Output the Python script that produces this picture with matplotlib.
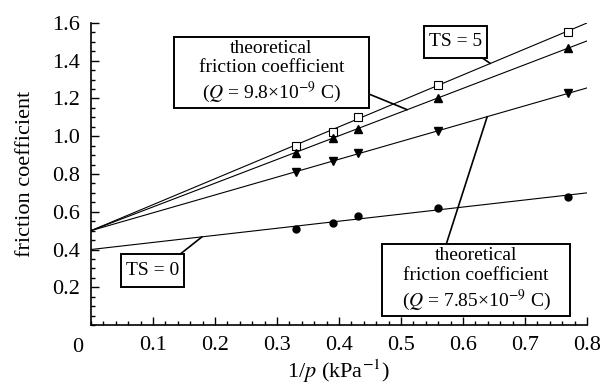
import numpy as np
import matplotlib.pyplot as plt
from matplotlib.patches import Rectangle
from matplotlib.ticker import MultipleLocator

plt.rcParams['font.family'] = ['Liberation Serif', 'DejaVu Serif']
plt.rcParams['mathtext.fontset'] = 'stix'

# measured points, 1/p (kPa^-1)
x_meas = [0.33, 0.39, 0.43, 0.56, 0.77]
ts_square = [0.95, 1.02, 1.10, 1.27, 1.55]
ts_up = [0.91, 0.99, 1.04, 1.20, 1.47]
ts_down = [0.81, 0.87, 0.91, 1.03, 1.23]
ts_zero = [0.51, 0.54, 0.58, 0.62, 0.68]

# theoretical lines: value at 1/p = 0 and at 1/p = 0.8
x_line = [0.0, 0.8]
line_square = [0.5, 1.60]
line_up = [0.5, 1.505]
line_down = [0.5, 1.256]
line_zero = [0.4, 0.70]

fig = plt.figure(figsize=(6.08, 3.85), dpi=100)
ax = fig.add_axes([0.1497, 0.1558, 0.8158, 0.7845])

ax.plot(x_line, line_square, 'k-', lw=0.8)
ax.plot(x_line, line_up, 'k-', lw=0.8)
ax.plot(x_line, line_down, 'k-', lw=0.8)
ax.plot(x_line, line_zero, 'k-', lw=0.8)

ax.plot(x_meas, ts_square, 's', mfc='white', mec='k', mew=0.8, ms=6, ls='none')
ax.plot(x_meas, ts_up, '^', color='k', ms=5.5, ls='none')
ax.plot(x_meas, ts_down, 'v', color='k', ms=5.5, ls='none')
ax.plot(x_meas, ts_zero, 'o', color='k', ms=5, ls='none')

ax.set_xlim(0, 0.8)
ax.set_ylim(0, 1.6)
ax.xaxis.set_minor_locator(MultipleLocator(0.02))
ax.yaxis.set_minor_locator(MultipleLocator(0.05))
ax.set_xticks(np.arange(0.1, 0.81, 0.1))
ax.set_xticklabels(['%.1f' % v for v in np.arange(0.1, 0.81, 0.1)])
ax.set_yticks(np.arange(0.2, 1.61, 0.2))
ax.set_yticklabels(['%.1f' % v for v in np.arange(0.2, 1.61, 0.2)])
ax.tick_params(which='both', direction='in', width=1, labelsize=16)
ax.tick_params(which='major', length=6, pad=8)
ax.tick_params(which='minor', length=3)
ax.spines['top'].set_visible(False)
ax.spines['right'].set_visible(False)
ax.spines['left'].set_linewidth(1.2)
ax.spines['bottom'].set_linewidth(1.2)
ax.text(-0.022, -0.07, '0', fontsize=16, ha='center', va='top')

ax.set_xlabel(r'1/$p$ (kPa$^{-1}$)', fontsize=16, labelpad=2)
ax.set_ylabel('friction coefficient', fontsize=16, labelpad=12)

def on_line(vals, x):
    return vals[0] + (vals[1] - vals[0]) * x / 0.8

def label_box(text, x0, x1, y0, y1, start, target_x, line):
    ax.add_patch(Rectangle((x0, y0), x1 - x0, y1 - y0, fc='white', ec='k',
                           lw=1.4, zorder=4))
    ax.text((x0 + x1) / 2, (y0 + y1) / 2, text, ha='center', va='center',
            fontsize=14, linespacing=1.2, zorder=5)
    ax.annotate('', xy=(target_x, on_line(line, target_x)), xytext=start,
                arrowprops=dict(arrowstyle='-', color='k', lw=1.2,
                                shrinkA=0, shrinkB=0), zorder=3)

label_box('theoretical\nfriction coefficient\n($Q$ = 9.8×10$^{-9}$ C)',
          0.134, 0.448, 1.150, 1.526, (0.448, 1.224), 0.51, line_up)
label_box('TS = 5', 0.537, 0.639, 1.415, 1.584, (0.631, 1.415), 0.644, line_square)
label_box('theoretical\nfriction coefficient\n($Q$ = 7.85×10$^{-9}$ C)',
          0.469, 0.773, 0.048, 0.429, (0.573, 0.429), 0.639, line_down)
label_box('TS = 0', 0.048, 0.150, 0.201, 0.376, (0.144, 0.376), 0.179, line_zero)

fig.savefig('out.png', dpi=100)
